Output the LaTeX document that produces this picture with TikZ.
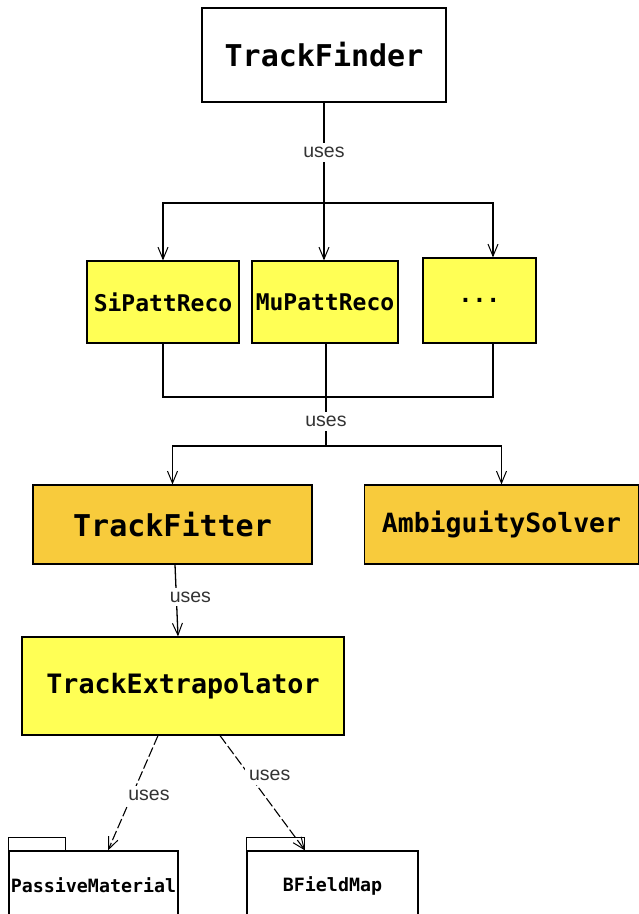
\documentclass[tikz,border=0pt]{standalone}
\usepackage{fontspec}
\setmainfont{Liberation Sans}
\newfontfamily\monob{DejaVu Sans Mono}
\usetikzlibrary{arrows.meta,calc}
\definecolor{lyel}{HTML}{FFFF55}
\definecolor{dyel}{HTML}{F8CB3C}
\begin{document}
\begin{tikzpicture}[x=1pt,y=-1pt,
  box/.style={draw=black,line width=1.2pt,inner sep=0pt,align=center,font=\monob\bfseries},
  cls/.style={box,fill=lyel},
  clsd/.style={box,fill=dyel},
  conn/.style={line width=1.3pt,black},
  arr/.style={conn,-{Straight Barb[length=12pt,width=10pt,line width=1pt]}},
  dep/.style={line width=1.1pt,black,dash pattern=on 10pt off 3pt,-{Straight Barb[length=12pt,width=10pt,line width=1pt]}},
  lab/.style={fill=white,inner sep=4pt,font=\fontsize{19.5}{19.5}\selectfont,text=black!80}
]
\useasboundingbox (0,0) rectangle (639,914);
\clip (0,0) rectangle (639,914);
\fill[white] (0,0) rectangle (639,914);

\node[box,fill=white,minimum width=244,minimum height=94,font=\monob\bfseries\fontsize{30}{30}\selectfont] (tf) at (324,55) {TrackFinder};
\node[cls,minimum width=152,minimum height=82,font=\monob\bfseries\fontsize{23}{23}\selectfont] (si) at (163,302) {SiPattReco};
\node[cls,minimum width=146,minimum height=82,font=\monob\bfseries\fontsize{23}{23}\selectfont] (mu) at (325,302) {MuPattReco};
\node[cls,minimum width=113,minimum height=85,font=\monob\bfseries\fontsize{23}{23}\selectfont] (dots) at (479.5,300.5) {...};
\node[clsd,minimum width=279,minimum height=79,font=\monob\bfseries\fontsize{30}{30}\selectfont] (tfit) at (172.5,524.5) {TrackFitter};
\node[clsd,minimum width=274,minimum height=79,font=\monob\bfseries\fontsize{26.5}{26.5}\selectfont] (amb) at (501.5,524.5) {AmbiguitySolver};
\node[cls,minimum width=322,minimum height=98,font=\monob\bfseries\fontsize{26.7}{26.7}\selectfont] (tx) at (183,686) {TrackExtrapolator};
\node[box,fill=white,minimum width=169,minimum height=69,font=\monob\bfseries\fontsize{18.3}{18.3}\selectfont] (pm) at (93.5,885.5) {PassiveMaterial};
\node[box,fill=white,minimum width=171,minimum height=69,font=\monob\bfseries\fontsize{18.3}{18.3}\selectfont] (bf) at (332.5,885.5) {BFieldMap};
\draw[line width=1.2pt,fill=white] (pm.north west) rectangle ++(57,-13);
\draw[line width=1.2pt,fill=white] (bf.north west) rectangle ++(58,-13);

\coordinate (j1) at (324,203);
\coordinate (j2) at (326,397);
\coordinate (j3) at (326,446);

\draw[conn] (tf.south) -- node[lab]{uses} (j1);
\draw[arr] (j1) -| (si.north);
\draw[arr] (j1) -- (j1 |- mu.north);
\draw[arr] (j1) -| ([xshift=13.5pt]dots.north);

\draw[conn] (si.south) |- (j2) -| ([xshift=13.5pt]dots.south);
\draw[conn] (j2 |- mu.south) -- (j2);
\draw[conn] (j2) -- node[lab]{uses} (j3);
\draw[arr] (j3) -| (tfit.north);
\draw[arr] (j3) -| (amb.north);

\draw[arr] ([xshift=2.5pt]tfit.south) -- node[lab,xshift=14pt,pos=0.45]{uses} ([xshift=-5pt]tx.north);
\draw[dep] ([xshift=-25pt]tx.south) -- node[lab,pos=0.52,xshift=17pt]{uses} ([xshift=14.5pt]pm.north);
\draw[dep] ([xshift=37pt]tx.south) -- node[lab,pos=0.35,xshift=20pt]{uses} ([xshift=-27.5pt]bf.north);
\end{tikzpicture}
\end{document}
